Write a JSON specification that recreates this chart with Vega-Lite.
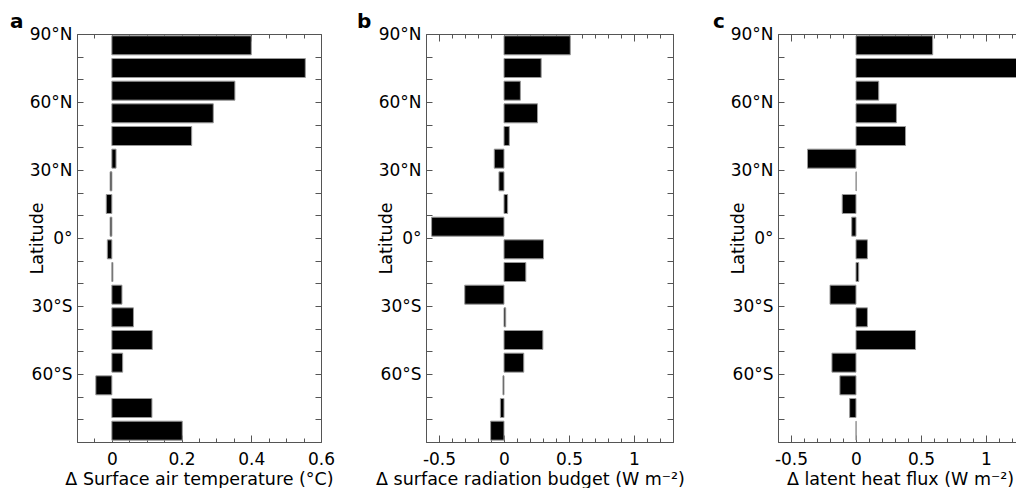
{
  "$schema": "https://vega.github.io/schema/vega-lite/v6.json",
  "background": "white",
  "padding": {"left": 10, "top": 11, "right": 0, "bottom": 0},
  "config": {
    "font": "DejaVu Sans",
    "view": {"stroke": null},
    "scale": {"continuousPadding": 0},
    "axis": {
      "grid": false,
      "domainColor": "#555",
      "tickColor": "#555",
      "labelColor": "#000",
      "titleColor": "#000",
      "labelFontSize": 17,
      "titleFontSize": 17.5,
      "titleFontWeight": "normal",
      "labelOverlap": false,
      "labelBound": false,
      "labelFlush": false
    },
    "title": {"fontSize": 20, "fontWeight": "bold", "anchor": "start", "frame": "group", "color": "#000", "baseline": "alphabetic", "offset": 0}
  },
  "data": {
    "values": [
      {"lat": 85, "t": 0.40, "r": 0.51, "l": 0.59},
      {"lat": 75, "t": 0.555, "r": 0.286, "l": 1.3},
      {"lat": 65, "t": 0.353, "r": 0.126, "l": 0.175},
      {"lat": 55, "t": 0.291, "r": 0.258, "l": 0.311},
      {"lat": 45, "t": 0.229, "r": 0.041, "l": 0.381},
      {"lat": 35, "t": 0.012, "r": -0.075, "l": -0.373},
      {"lat": 25, "t": -0.005, "r": -0.039, "l": 0.002},
      {"lat": 15, "t": -0.016, "r": 0.028, "l": -0.106},
      {"lat": 5, "t": -0.005, "r": -0.557, "l": -0.033},
      {"lat": -5, "t": -0.013, "r": 0.304, "l": 0.088},
      {"lat": -15, "t": 0.003, "r": 0.168, "l": 0.021},
      {"lat": -25, "t": 0.029, "r": -0.302, "l": -0.2},
      {"lat": -35, "t": 0.062, "r": 0.013, "l": 0.088},
      {"lat": -45, "t": 0.116, "r": 0.299, "l": 0.458},
      {"lat": -55, "t": 0.031, "r": 0.152, "l": -0.185},
      {"lat": -65, "t": -0.046, "r": -0.008, "l": -0.124},
      {"lat": -75, "t": 0.115, "r": -0.028, "l": -0.049},
      {"lat": -85, "t": 0.202, "r": -0.103, "l": 0.001}
    ]
  },
  "bounds": "flush",
  "spacing": 105,
  "hconcat": [
    {
      "width": 244,
      "height": 408,
      "title": {"text": "a", "dx": -67, "dy": 10.5},
      "layer": [
        {
          "mark": {"type": "bar", "orient": "horizontal", "height": 19, "fill": "#000", "stroke": "#999", "strokeWidth": 1, "clip": true},
          "encoding": {
            "x": {"field": "t", "type": "quantitative",
              "scale": {"domain": [-0.1, 0.6], "nice": false, "zero": false, "padding": 0},
              "axis": {"orient": "bottom",
                "values": [-0.1, -0.05, 0, 0.05, 0.1, 0.15, 0.2, 0.25, 0.3, 0.35, 0.4, 0.45, 0.5, 0.55, 0.6],
                "labelExpr": "abs(datum.value*5 - round(datum.value*5)) < 0.001 ? '' + datum.value : ''",
                "tickSize": {"condition": {"test": "abs(datum.value*5 - round(datum.value*5)) < 0.001", "value": -7}, "value": -4},
                "labelPadding": 16,
                "title": "Δ Surface air temperature (°C)",
                "titleX": 122, "titleY": 42, "titleAlign": "center", "titleBaseline": "alphabetic"}},
            "y": {"field": "lat", "type": "quantitative",
              "scale": {"domain": [-90, 90], "nice": false, "zero": false, "padding": 0},
              "axis": {"orient": "left",
                "values": [-90, -80, -70, -60, -50, -40, -30, -20, -10, 0, 10, 20, 30, 40, 50, 60, 70, 80, 90],
                "labelExpr": "datum.value == 0 ? '0°' : (datum.value % 30 == 0 && datum.value > -90) ? (abs(datum.value) + '°' + (datum.value > 0 ? 'N' : 'S')) : ''",
                "tickSize": -6, "labelPadding": 11,
                "title": "Latitude", "titleAngle": -90, "titleX": -35, "titleY": 204, "titleAlign": "center", "titleBaseline": "alphabetic"}}
          }
        },
        {
          "mark": {"type": "point", "opacity": 0, "clip": true},
          "encoding": {
            "x": {"field": "t", "type": "quantitative",
              "scale": {"domain": [-0.1, 0.6], "nice": false, "zero": false, "padding": 0},
              "axis": {"orient": "top", "labels": false, "title": null,
                "values": [-0.1, -0.05, 0, 0.05, 0.1, 0.15, 0.2, 0.25, 0.3, 0.35, 0.4, 0.45, 0.5, 0.55, 0.6],
                "tickSize": {"condition": {"test": "abs(datum.value*5 - round(datum.value*5)) < 0.001", "value": -7}, "value": -4}}},
            "y": {"field": "lat", "type": "quantitative",
              "scale": {"domain": [-90, 90], "nice": false, "zero": false, "padding": 0},
              "axis": {"orient": "right", "labels": false, "title": null,
                "values": [-90, -80, -70, -60, -50, -40, -30, -20, -10, 0, 10, 20, 30, 40, 50, 60, 70, 80, 90],
                "tickSize": -6}}
          }
        }
      ],
      "resolve": {"axis": {"x": "independent", "y": "independent"}}
    },
    {
      "width": 247,
      "height": 408,
      "title": {"text": "b", "dx": -69, "dy": 10.5},
      "layer": [
        {
          "mark": {"type": "bar", "orient": "horizontal", "height": 19, "fill": "#000", "stroke": "#999", "strokeWidth": 1, "clip": true},
          "encoding": {
            "x": {"field": "r", "type": "quantitative",
              "scale": {"domain": [-0.6, 1.3], "nice": false, "zero": false, "padding": 0},
              "axis": {"orient": "bottom",
                "values": [-0.6, -0.5, -0.4, -0.3, -0.2, -0.1, 0, 0.1, 0.2, 0.3, 0.4, 0.5, 0.6, 0.7, 0.8, 0.9, 1, 1.1, 1.2, 1.3],
                "labelExpr": "abs(datum.value*2 - round(datum.value*2)) < 0.001 ? '' + datum.value : ''",
                "tickSize": {"condition": {"test": "abs(datum.value*2 - round(datum.value*2)) < 0.001", "value": -7}, "value": -4},
                "labelPadding": 16,
                "title": "Δ surface radiation budget (W m⁻²)",
                "titleX": 104, "titleY": 42, "titleAlign": "center", "titleBaseline": "alphabetic"}},
            "y": {"field": "lat", "type": "quantitative",
              "scale": {"domain": [-90, 90], "nice": false, "zero": false, "padding": 0},
              "axis": {"orient": "left",
                "values": [-90, -80, -70, -60, -50, -40, -30, -20, -10, 0, 10, 20, 30, 40, 50, 60, 70, 80, 90],
                "labelExpr": "datum.value == 0 ? '0°' : (datum.value % 30 == 0 && datum.value > -90) ? (abs(datum.value) + '°' + (datum.value > 0 ? 'N' : 'S')) : ''",
                "tickSize": -6, "labelPadding": 11,
                "title": "Latitude", "titleAngle": -90, "titleX": -35, "titleY": 204, "titleAlign": "center", "titleBaseline": "alphabetic"}}
          }
        },
        {
          "mark": {"type": "point", "opacity": 0, "clip": true},
          "encoding": {
            "x": {"field": "r", "type": "quantitative",
              "scale": {"domain": [-0.6, 1.3], "nice": false, "zero": false, "padding": 0},
              "axis": {"orient": "top", "labels": false, "title": null,
                "values": [-0.6, -0.5, -0.4, -0.3, -0.2, -0.1, 0, 0.1, 0.2, 0.3, 0.4, 0.5, 0.6, 0.7, 0.8, 0.9, 1, 1.1, 1.2, 1.3],
                "tickSize": {"condition": {"test": "abs(datum.value*2 - round(datum.value*2)) < 0.001", "value": -7}, "value": -4}}},
            "y": {"field": "lat", "type": "quantitative",
              "scale": {"domain": [-90, 90], "nice": false, "zero": false, "padding": 0},
              "axis": {"orient": "right", "labels": false, "title": null,
                "values": [-90, -80, -70, -60, -50, -40, -30, -20, -10, 0, 10, 20, 30, 40, 50, 60, 70, 80, 90],
                "tickSize": -6}}
          }
        }
      ],
      "resolve": {"axis": {"x": "independent", "y": "independent"}}
    },
    {
      "width": 238,
      "height": 408,
      "title": {"text": "c", "dx": -65, "dy": 10.5},
      "layer": [
        {
          "mark": {"type": "bar", "orient": "horizontal", "height": 19, "fill": "#000", "stroke": "#999", "strokeWidth": 1, "clip": true},
          "encoding": {
            "x": {"field": "l", "type": "quantitative",
              "scale": {"domain": [-0.6, 1.2308], "nice": false, "zero": false, "padding": 0},
              "axis": {"orient": "bottom",
                "values": [-0.6, -0.5, -0.4, -0.3, -0.2, -0.1, 0, 0.1, 0.2, 0.3, 0.4, 0.5, 0.6, 0.7, 0.8, 0.9, 1, 1.1, 1.2],
                "labelExpr": "abs(datum.value*2 - round(datum.value*2)) < 0.001 ? '' + datum.value : ''",
                "tickSize": {"condition": {"test": "abs(datum.value*2 - round(datum.value*2)) < 0.001", "value": -7}, "value": -4},
                "labelPadding": 16,
                "title": "Δ latent heat flux (W m⁻²)",
                "titleX": 122, "titleY": 42, "titleAlign": "center", "titleBaseline": "alphabetic"}},
            "y": {"field": "lat", "type": "quantitative",
              "scale": {"domain": [-90, 90], "nice": false, "zero": false, "padding": 0},
              "axis": {"orient": "left",
                "values": [-90, -80, -70, -60, -50, -40, -30, -20, -10, 0, 10, 20, 30, 40, 50, 60, 70, 80, 90],
                "labelExpr": "datum.value == 0 ? '0°' : (datum.value % 30 == 0 && datum.value > -90) ? (abs(datum.value) + '°' + (datum.value > 0 ? 'N' : 'S')) : ''",
                "tickSize": -6, "labelPadding": 11,
                "title": "Latitude", "titleAngle": -90, "titleX": -35, "titleY": 204, "titleAlign": "center", "titleBaseline": "alphabetic"}}
          }
        },
        {
          "mark": {"type": "point", "opacity": 0, "clip": true},
          "encoding": {
            "x": {"field": "l", "type": "quantitative",
              "scale": {"domain": [-0.6, 1.2308], "nice": false, "zero": false, "padding": 0},
              "axis": {"orient": "top", "labels": false, "title": null,
                "values": [-0.6, -0.5, -0.4, -0.3, -0.2, -0.1, 0, 0.1, 0.2, 0.3, 0.4, 0.5, 0.6, 0.7, 0.8, 0.9, 1, 1.1, 1.2],
                "tickSize": {"condition": {"test": "abs(datum.value*2 - round(datum.value*2)) < 0.001", "value": -7}, "value": -4}}},
            "y": {"field": "lat", "type": "quantitative",
              "scale": {"domain": [-90, 90], "nice": false, "zero": false, "padding": 0},
              "axis": null}
          }
        }
      ],
      "resolve": {"axis": {"x": "independent", "y": "independent"}}
    }
  ]
}
